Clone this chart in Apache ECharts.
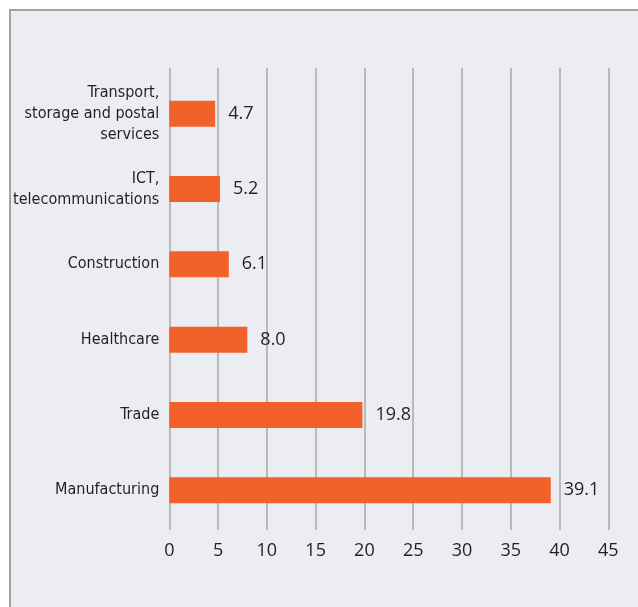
<!DOCTYPE html>
<html>
<head>
<meta charset="utf-8">
<script src="https://cdn.jsdelivr.net/npm/echarts@6/dist/echarts.min.js"></script>
<style>
  html, body { margin: 0; padding: 0; background: #ffffff; }
  #panel {
    position: absolute; left: 9px; top: 9px; width: 640px; height: 610px;
    background: #ecedf2; border-left: 2px solid #a3a3a6; border-top: 2px solid #a3a3a6;
  }
  #chart { position: absolute; left: 0; top: 0; width: 638px; height: 607px; }
</style>
</head>
<body>
<div id="panel"></div>
<div id="chart"></div>
<script>
// Sectors, listed bottom to top along the category axis
const sectors = [
  'Manufacturing',
  'Trade',
  'Healthcare',
  'Construction',
  'ICT,\ntelecommunications',
  'Transport,\nstorage and postal\nservices'
];
const shares = [39.1, 19.8, 8.0, 6.1, 5.2, 4.7];
const axisMin = 0, axisMax = 45, axisStep = 5;

const textColor = '#231f20';
const barColor = '#f2612a';
const lineColor = '#a7a7aa';
const narrowFont = "'Liberation Sans Narrow', 'DejaVu Sans Condensed', 'Roboto Condensed', 'Noto Sans', sans-serif";
const numberFont = "'Open Sans', 'Noto Sans', sans-serif";

const chart = echarts.init(document.getElementById('chart'), null, { renderer: 'canvas' });
chart.setOption({
  backgroundColor: 'transparent',
  animation: false,
  grid: [
    { left: 169.3, right: 29.7, top: 76, bottom: 79 },
    { left: 169.3, right: 29.7, top: 68, bottom: 77 }
  ],
  xAxis: [
    {
      gridIndex: 0, type: 'value', min: axisMin, max: axisMax, interval: axisStep,
      axisLine: { show: false }, axisTick: { show: false },
      axisLabel: { show: false }, splitLine: { show: false }
    },
    {
      gridIndex: 1, type: 'value', min: axisMin, max: axisMax, interval: axisStep,
      axisLine: { show: false }, axisTick: { show: false },
      axisLabel: {
        margin: 12, color: textColor, fontFamily: numberFont, fontSize: 18
      },
      splitLine: { show: true, lineStyle: { color: lineColor, width: 1.5 } }
    }
  ],
  yAxis: [
    {
      gridIndex: 0, type: 'category', data: sectors,
      axisLine: { show: false }, axisTick: { show: false },
      axisLabel: {
        margin: 10, color: textColor, fontFamily: narrowFont,
        fontSize: 16, lineHeight: 21, align: 'right'
      }
    },
    {
      gridIndex: 1, type: 'category', data: sectors, show: false
    }
  ],
  series: [{
    type: 'bar', xAxisIndex: 0, yAxisIndex: 0,
    data: shares, barWidth: 26,
    itemStyle: { color: barColor },
    label: {
      show: true, position: 'right', distance: 13,
      color: textColor, fontFamily: numberFont, fontSize: 18,
      formatter: p => p.value.toFixed(1)
    }
  }]
});
</script>
</body>
</html>
